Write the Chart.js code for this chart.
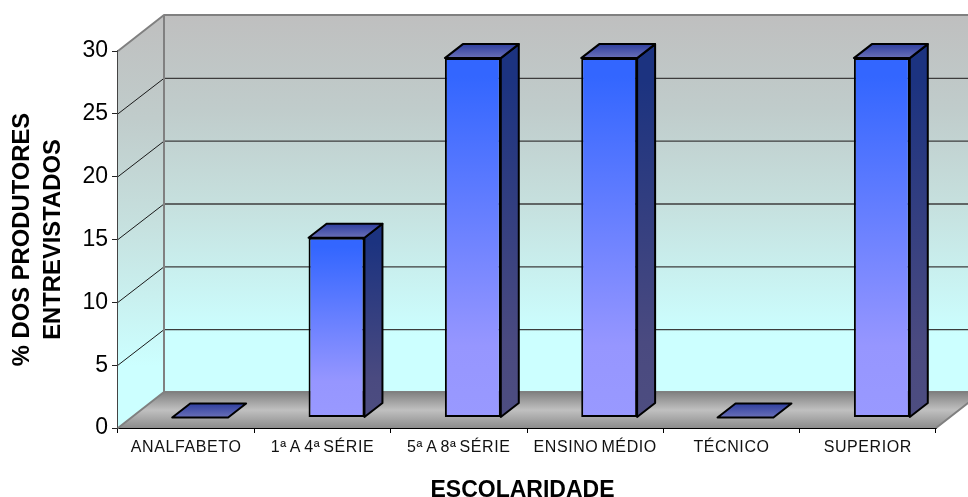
<!DOCTYPE html>
<html>
<head>
<meta charset="utf-8">
<style>
  html, body { margin: 0; padding: 0; background: #fff; overflow: hidden; }
  #wrap { width: 968px; height: 497px; }
</style>
<script src="https://cdn.jsdelivr.net/npm/chart.js@4/dist/chart.umd.js"></script>
</head>
<body>
<div id="wrap"><canvas id="myChart" width="968" height="497"></canvas></div>
<script>
var categories = ["ANALFABETO", "1ª A 4ª SÉRIE", "5ª A 8ª SÉRIE", "ENSINO MÉDIO", "TÉCNICO", "SUPERIOR"];
var percentages = [0, 14.3, 28.6, 28.6, 0, 28.6];

// projection of the excel style 3d box, in px
var wallDx = 46, wallDy = 36;
var barShiftX = 14, barShiftY = 10.5;
var barDx = 18, barDy = 14;

function quad(ctx, pts, fill, stroke, lw) {
  ctx.beginPath();
  ctx.moveTo(pts[0][0], pts[0][1]);
  for (var i = 1; i < pts.length; i++) ctx.lineTo(pts[i][0], pts[i][1]);
  ctx.closePath();
  ctx.fillStyle = fill;
  ctx.fill();
  if (stroke) {
    ctx.strokeStyle = stroke;
    ctx.lineWidth = lw;
    ctx.lineJoin = 'round';
    ctx.stroke();
  }
}

function vgrad(ctx, y0, y1, stops) {
  var g = ctx.createLinearGradient(0, y0, 0, y1);
  stops.forEach(function (s) { g.addColorStop(s[0], s[1]); });
  return g;
}

// x axis labels in the picture are spaced out, and its title sits a bit left of centre
class SpacedCategory extends Chart.CategoryScale {
  drawLabels(area) {
    var ctx = this.ctx;
    ctx.save();
    ctx.letterSpacing = '0.6px';
    ctx.wordSpacing = '-2px';
    super.drawLabels(area);
    ctx.restore();
  }
  drawTitle() {
    var ctx = this.ctx;
    ctx.save();
    ctx.translate(-4.5, 0);
    super.drawTitle();
    ctx.restore();
  }
}
SpacedCategory.id = 'spacedCategory';
SpacedCategory.defaults = Chart.CategoryScale.defaults;
Chart.register(SpacedCategory);

var walls3d = {
  id: 'walls3d',
  beforeDatasetsDraw: function (chart) {
    var ctx = chart.ctx, a = chart.chartArea, y = chart.scales.y;
    var wallStops = [[0, '#bfbfbf'], [0.25, '#c0cccb'], [0.5, '#c6e0de'], [0.85, '#ccffff'], [1, '#ccffff']];
    ctx.save();
    // side wall
    quad(ctx, [[a.left, a.top], [a.left + wallDx, a.top - wallDy], [a.left + wallDx, a.bottom - wallDy], [a.left, a.bottom]],
      vgrad(ctx, a.top - wallDy, a.bottom, wallStops));
    // back wall
    quad(ctx, [[a.left + wallDx, a.top - wallDy], [a.right + wallDx, a.top - wallDy], [a.right + wallDx, a.bottom - wallDy], [a.left + wallDx, a.bottom - wallDy]],
      vgrad(ctx, a.top - wallDy, a.bottom - wallDy, wallStops));
    // floor
    quad(ctx, [[a.left, a.bottom], [a.left + wallDx, a.bottom - wallDy], [a.right + wallDx, a.bottom - wallDy], [a.right, a.bottom]],
      vgrad(ctx, a.bottom - wallDy, a.bottom, [[0, '#808080'], [0.5, '#c0c0c0'], [1, '#8c8c8c']]));
    // gridlines, back wall then side wall
    y.ticks.forEach(function (t, i) {
      var py = y.getPixelForTick(i);
      if (t.value > 0 && t.value < 30) {
        ctx.strokeStyle = '#3c3c3c';
        ctx.lineWidth = 1.3;
        ctx.beginPath();
        ctx.moveTo(a.left + wallDx, py - wallDy + 0.5);
        ctx.lineTo(a.right + wallDx, py - wallDy + 0.5);
        ctx.stroke();
        ctx.strokeStyle = '#1a1a1a';
        ctx.lineWidth = 1;
        ctx.beginPath();
        ctx.moveTo(a.left, py);
        ctx.lineTo(a.left + wallDx, py - wallDy + 0.5);
        ctx.stroke();
      }
    });
    // wall outline
    ctx.strokeStyle = '#808080';
    ctx.lineWidth = 2;
    ctx.lineJoin = 'round';
    ctx.beginPath();
    ctx.moveTo(a.left, a.top);
    ctx.lineTo(a.left + wallDx, a.top - wallDy);
    ctx.lineTo(a.right + wallDx, a.top - wallDy);
    ctx.moveTo(a.left + wallDx, a.top - wallDy);
    ctx.lineTo(a.left + wallDx, a.bottom - wallDy);
    ctx.lineTo(a.left, a.bottom);
    ctx.moveTo(a.left + wallDx, a.bottom - wallDy);
    ctx.lineTo(a.right + wallDx, a.bottom - wallDy);
    ctx.moveTo(a.right, a.bottom);
    ctx.lineTo(a.right + wallDx, a.bottom - wallDy);
    ctx.stroke();
    ctx.restore();
  },
  beforeDatasetDraw: function (chart, args) {
    var ctx = chart.ctx;
    ctx.save();
    ctx.translate(barShiftX, -barShiftY);
    // side and top faces follow the library's bar elements
    args.meta.data.forEach(function (bar) {
      var l = bar.x - bar.width / 2, r = bar.x + bar.width / 2;
      if (bar.base - bar.y > 0.5) {
        quad(ctx, [[r, bar.y], [r + barDx, bar.y - barDy], [r + barDx, bar.base - barDy], [r, bar.base]],
          vgrad(ctx, bar.y - barDy, bar.base, [[0, '#1c3380'], [0.1, '#1c3380'], [0.8, '#4a4a80'], [1, '#4d4d80']]), '#000', 2);
      }
      quad(ctx, [[l, bar.y], [l + barDx, bar.y - barDy], [r + barDx, bar.y - barDy], [r, bar.y]],
        vgrad(ctx, bar.y - barDy, bar.y, [[0, '#2f3f9f'], [1, '#6a70b8']]), '#000', 2);
    });
  },
  afterDatasetDraw: function (chart) {
    chart.ctx.restore();
  }
};

var ctx = document.getElementById("myChart").getContext("2d");
var myChart = new Chart(ctx, {
  type: 'bar',
  data: {
    labels: categories,
    datasets: [{
      data: percentages,
      clip: false,
      borderColor: '#000',
      borderWidth: 2,
      borderSkipped: false,
      backgroundColor: function (c) {
        var y = c.chart.scales.y;
        if (!y || !c.parsed) return '#3366ff';
        var top = y.getPixelForValue(c.parsed.y), bottom = y.getPixelForValue(0);
        if (!isFinite(top) || !isFinite(bottom)) return '#3366ff';
        return vgrad(c.chart.ctx, top, bottom, [[0, '#3366ff'], [0.05, '#3366ff'], [0.8, '#9696ff'], [1, '#9999ff']]);
      },
      categoryPercentage: 1,
      barPercentage: 0.41
    }]
  },
  options: {
    responsive: false,
    animation: false,
    layout: { padding: { top: 51, right: 32, left: 0, bottom: 0 } },
    plugins: { legend: { display: false }, tooltip: { enabled: false } },
    scales: {
      x: {
        type: 'spacedCategory',
        afterFit: function (s) { s.height = 69; },
        grid: { offset: true, drawOnChartArea: false, color: '#000', tickLength: 5, tickColor: '#000' },
        border: { color: '#000', width: 2 },
        ticks: {
          autoSkip: false, maxRotation: 0, minRotation: 0, padding: 5, color: '#111',
          font: { family: '"Liberation Sans", Arial, sans-serif', size: 16 }
        },
        title: {
          display: true, text: 'ESCOLARIDADE', color: '#000',
          font: { family: '"Liberation Sans", Arial, sans-serif', size: 23, weight: 'bold', lineHeight: 1.2 },
          padding: { top: 0, bottom: -7.5 }
        }
      },
      y: {
        min: 0,
        max: 30,
        afterFit: function (s) { s.width = 118; },
        grid: { drawOnChartArea: false, tickLength: 6, tickColor: '#222' },
        border: { color: '#444', width: 2 },
        ticks: {
          stepSize: 5, padding: 4, color: '#000',
          font: { family: '"Liberation Sans", Arial, sans-serif', size: 23 }
        },
        title: {
          display: true, text: ['% DOS PRODUTORES', 'ENTREVISTADOS'], color: '#000',
          font: { family: '"Liberation Sans", Arial, sans-serif', size: 23.8, weight: 'bold', lineHeight: 1.32 },
          padding: { top: 6.5, bottom: 0 }
        }
      }
    }
  },
  plugins: [walls3d]
});
</script>
</body>
</html>
